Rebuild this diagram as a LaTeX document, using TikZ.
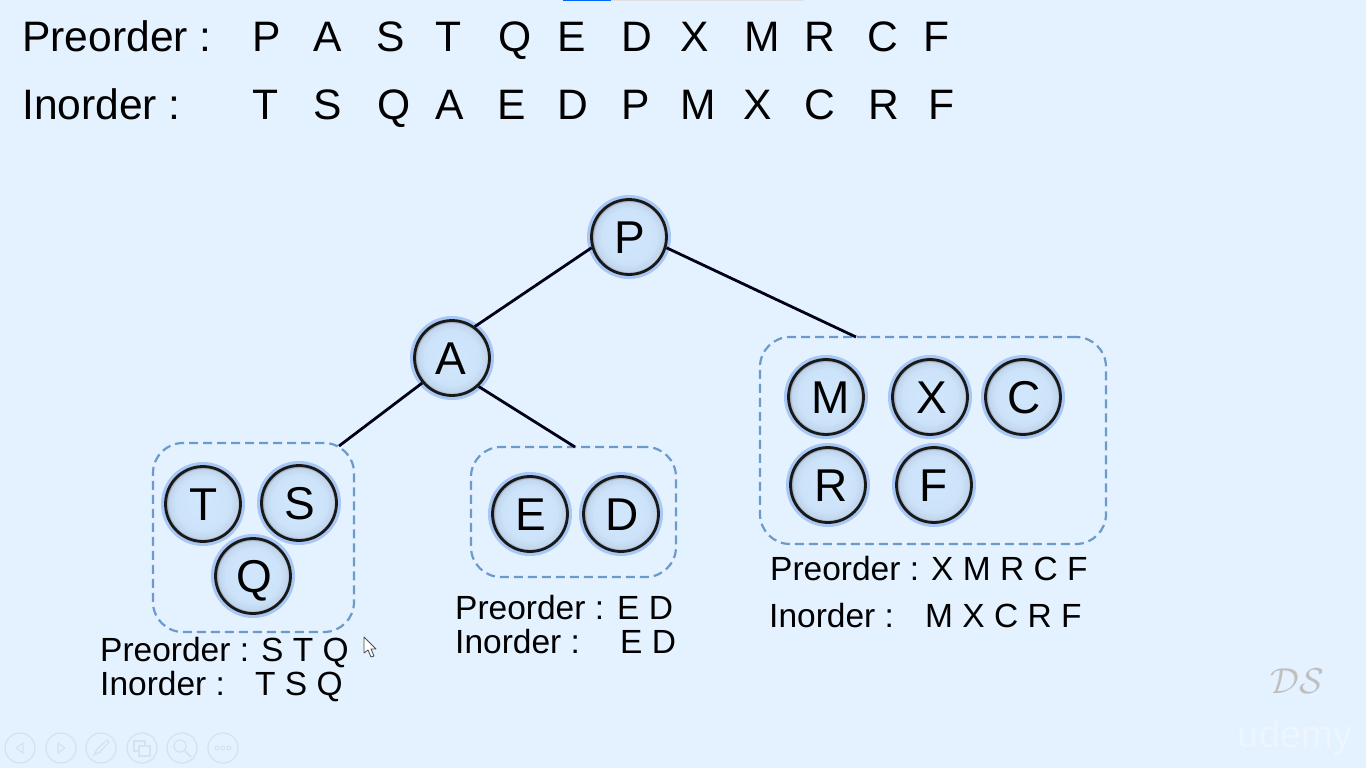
\documentclass[tikz,border=0pt]{standalone}
\usepackage{fontspec}
\setmainfont{Liberation Sans}
\usetikzlibrary{calc}
\definecolor{slidebg}{HTML}{E4F1FF}
\definecolor{glow}{HTML}{A9C7F5}
\definecolor{boxline}{HTML}{6C9BCB}
\definecolor{toolline}{HTML}{D5E1EC}
\pgfdeclareradialshading{ballshade}{\pgfpoint{0bp}{2bp}}{
	rgb(0bp)=(0.82,0.905,0.99);
	rgb(18bp)=(0.80,0.89,0.98);
	rgb(23bp)=(0.76,0.84,0.93);
	rgb(25bp)=(0.50,0.55,0.60)
}

\begin{document}
\begin{tikzpicture}[x=1pt,y=-1pt,
ball/.style = {circle, draw=black!90, line width=2.8pt, minimum size=75pt, inner sep=0pt,
	shading=ballshade, text height=33pt, text depth=0pt,
	font=\fontsize{46}{50}\selectfont,
	preaction={draw=glow, line width=9pt}},
group/.style = {draw=boxline, dashed, dash pattern=on 9pt off 5pt, line width=2.2pt, rounded corners=30pt, inner sep=0pt},
big/.style = {anchor=base west, inner sep=0pt, font=\fontsize{42.6}{48}\selectfont},
letter/.style = {anchor=base, inner sep=0pt, font=\fontsize{42.6}{48}\selectfont},
small/.style = {anchor=base west, inner sep=0pt, font=\fontsize{33.5}{38}\selectfont},
tool/.style = {circle, draw=toolline, line width=1.2pt, minimum size=30pt, inner sep=0pt},
toolmark/.style = {draw=toolline, line width=1.2pt},
branch/.style = {draw=black!90!blue, line width=2.8pt}
]
    \fill [slidebg] (0,0) rectangle (1366,768);
    \useasboundingbox (0,0) rectangle (1366,768);

    % player progress bar
    \fill [blue!60!cyan] (563,0) rectangle (611,1.5);
    \fill [black!12] (611,0) rectangle (804,1.5);

    % the two sequences
    \node [big] (preTitle) at (22,52) {Preorder :};
    \node [big] (inTitle) at (22,119) {Inorder :};
    \foreach \ch/\px in {P/267,A/328,S/391,T/449,Q/515,E/572,D/637,X/695,M/762,R/820,C/883,F/937}
        \node [letter] (pre\ch) at (\px,52) {\ch};
    \foreach \ch/\px in {T/266,S/328,Q/394,A/450,E/512,D/573,P/636,M/698,X/758,C/820,R/884,F/942}
        \node [letter] (in\ch) at (\px,119) {\ch};

    % dashed groups
    \node [group, minimum width=201pt, minimum height=189pt] (groupL) at (253.5,537.5) {};
    \node [group, minimum width=205pt, minimum height=130pt] (groupM) at (573.5,512) {};
    \node [group, minimum width=346pt, minimum height=207pt] (groupR) at (933,440.5) {};

    \coordinate (endL) at (339,446);
    \coordinate (endM) at (575,447);
    \coordinate (endR) at (856,337);

    % tree
    \node [ball] (P) at (629,237) {\kern2pt P};
    \node [ball] (A) at (452,358) {\kern-2pt A};
    \node [ball] (T) at (203,504) {\kern1pt T};
    \node [ball] (S) at (299,503) {\kern1pt S};
    \node [ball] (Q) at (253,576) {\kern3pt Q};
    \node [ball] (E) at (530,514) {\kern1pt E};
    \node [ball] (D) at (621,514) {\kern2pt D};
    \node [ball] (M) at (826,397) {\kern10pt M};
    \node [ball] (X) at (930,397) {\kern3pt X};
    \node [ball] (C) at (1023,397) {\kern3pt C};
    \node [ball] (R) at (828,485) {\kern6pt R};
    \node [ball] (F) at (934,485) {F};

    \draw [branch] (P.196) -- (A.54);
    \draw [branch] (P.-16) -- (endR);
    \draw [branch] (A.220) -- (endL);
    \draw [branch] (A.-47) -- (endM);

    % sequences under each group
    \node [small] (preL) at (100,661) {Preorder :};
    \node [small] (preLv) at (261,661) {S T Q};
    \node [small] (inL) at (100,695) {Inorder :};
    \node [small] (inLv) at (255,695) {T S Q};

    \node [small] (preM) at (455,619) {Preorder :};
    \node [small] (preMv) at (617,619) {E D};
    \node [small] (inM) at (455,653) {Inorder :};
    \node [small] (inMv) at (620,653) {E D};

    \node [small] (preR) at (770,580) {Preorder :};
    \node [small] (preRv) at (931,580) {X M R C F};
    \node [small] (inR) at (769,627) {Inorder :};
    \node [small] (inRv) at (925,627) {M X C R F};

    % mouse pointer
    \draw [black!70, fill=white, line width=0.8pt, line join=round]
        (364,637) -- (364,653) -- (368,650) -- (371,657) -- (374,656) -- (371,649) -- (376,649) -- cycle;

    % slide show controls
    \node [tool] (toolA) at (20,748) {};
    \node [tool] (toolB) at (61,748) {};
    \node [tool] (toolC) at (101,748) {};
    \node [tool] (toolD) at (142,748) {};
    \node [tool] (toolE) at (182,748) {};
    \node [tool] (toolF) at (223,748) {};
    \draw [toolmark, line join=round] (23,743) -- (16,748) -- (23,753) -- cycle;
    \draw [toolmark, line join=round] (58,743) -- (65,748) -- (58,753) -- cycle;
    \draw [toolmark] (94,755) -- (97,749) -- (107,740) -- (109,742) -- (100,752) -- cycle;
    \draw [toolmark] (134,741) rectangle (145,751);
    \draw [toolmark, fill=slidebg] (139,746) rectangle (150,756);
    \draw [toolmark] (180,746) circle (6pt);
    \draw [toolmark, line width=2pt] (185,751) -- (191,757);
    \foreach \px in {217,223,229}
        \draw [toolmark, line width=0.9pt] (\px,748) circle (2pt);

    % watermark
    \node [inner sep=0pt, text=black!25] (logoDS) at (1297,681) {\scalebox{3.6}{$\mathcal{D}\mathcal{S}$}};
    \node [inner sep=0pt, text=white!35!slidebg, font=\fontsize{38}{42}\selectfont] (logoU) at (1295,738) {udemy};
\end{tikzpicture}
\end{document}
